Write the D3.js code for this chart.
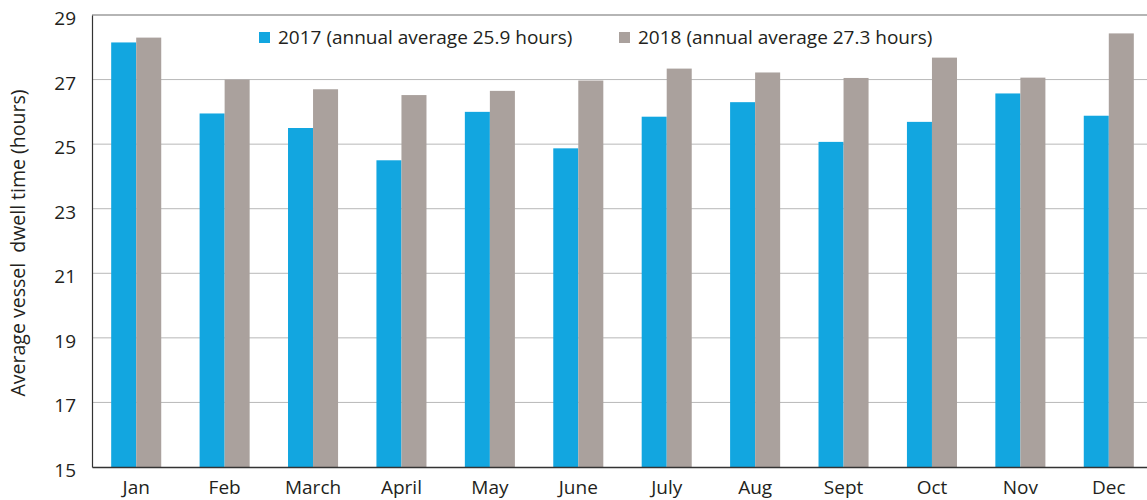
<!DOCTYPE html>
<html>
<head>
<meta charset="utf-8">
<script src="https://cdn.jsdelivr.net/npm/d3@7"></script>
<style>
  body { margin: 0; background: #fff; }
  svg text { font-family: "Open Sans", sans-serif; fill: #231f20; }
</style>
</head>
<body>
<script>
// monthly averages
var months = ["Jan", "Feb", "March", "April", "May", "June", "July", "Aug", "Sept", "Oct", "Nov", "Dec"];
var dwell2017 = [28.15, 25.95, 25.5, 24.5, 26.0, 24.87, 25.85, 26.3, 25.07, 25.69, 26.57, 25.88];
var dwell2018 = [28.3, 27.0, 26.7, 26.52, 26.65, 26.97, 27.34, 27.22, 27.05, 27.68, 27.06, 28.43];
var seriesNames = ["2017 (annual average 25.9 hours)", "2018 (annual average 27.3 hours)"];
var yTicks = [15, 17, 19, 21, 23, 25, 27, 29];

var colors = ["#12a6e0", "#aaa19d"];

var width = 1147, height = 500;
var margin = {top: 15, right: -6, bottom: 33, left: 92};
var plotW = width - margin.left - margin.right,
    plotH = height - margin.top - margin.bottom;

var data = months.map(function(m, i) {
  return {month: m, values: [dwell2017[i], dwell2018[i]]};
});

var svg = d3.select("body").append("svg")
    .attr("width", width)
    .attr("height", height);

var g = svg.append("g")
    .attr("transform", "translate(" + margin.left + "," + margin.top + ")");

var x = d3.scaleBand()
    .domain(months)
    .range([0, plotW])
    .paddingInner(0.434)
    .paddingOuter(0.217);

var x1 = d3.scaleBand()
    .domain([0, 1])
    .range([0, x.bandwidth()]);

var y = d3.scaleLinear()
    .domain([15, 29])
    .range([plotH, 0]);

// grid lines
g.append("g")
    .selectAll("line")
    .data(yTicks.slice(1))
    .enter().append("line")
      .attr("x1", 0)
      .attr("x2", plotW)
      .attr("y1", function(d) { return y(d); })
      .attr("y2", function(d) { return y(d); })
      .attr("stroke", function(d) { return d == 29 ? "#9d9d9d" : "#b8b8b8"; })
      .attr("stroke-width", function(d) { return d == 29 ? 1.5 : 1; });

// bars
var groups = g.selectAll(".month")
    .data(data)
  .enter().append("g")
    .attr("class", "month")
    .attr("transform", function(d) { return "translate(" + x(d.month) + ",0)"; });

groups.selectAll("rect")
    .data(function(d) { return d.values; })
  .enter().append("rect")
    .attr("x", function(d, i) { return x1(i); })
    .attr("width", x1.bandwidth())
    .attr("y", function(d) { return y(d); })
    .attr("height", function(d) { return plotH - y(d); })
    .attr("fill", function(d, i) { return colors[i]; });

// y axis
var yAxis = g.append("g")
    .call(d3.axisLeft(y).tickValues(yTicks).tickSize(0).tickPadding(16));
yAxis.select(".domain").attr("stroke", "#333").attr("stroke-width", 1.2);
yAxis.selectAll("text")
    .attr("font-size", 19)
    .attr("font-family", "Open Sans, sans-serif")
    .attr("dy", "0.5em");

// x axis
var xAxis = g.append("g")
    .attr("transform", "translate(0," + plotH + ")")
    .call(d3.axisBottom(x).tickSize(0).tickPadding(14));
xAxis.select(".domain").attr("stroke", "#333").attr("stroke-width", 1.5);
xAxis.selectAll("text")
    .attr("font-size", 19)
    .attr("font-family", "Open Sans, sans-serif");

// y label
svg.append("text")
    .attr("transform", "translate(25,243) rotate(-90)")
    .attr("text-anchor", "middle")
    .attr("font-size", 19.5)
    .attr("xml:space", "preserve")
    .style("white-space", "pre")
    .text("Average vessel  dwell time (hours)");

// legend
var legendX = [259, 619];
var legend = svg.selectAll(".legend")
    .data(seriesNames)
  .enter().append("g")
    .attr("class", "legend")
    .attr("transform", function(d, i) { return "translate(" + legendX[i] + ",32)"; });

legend.append("rect")
    .attr("width", 11)
    .attr("height", 11)
    .attr("fill", function(d, i) { return colors[i]; });

legend.append("text")
    .attr("x", 19)
    .attr("y", 11.5)
    .attr("font-size", 19)
    .text(function(d) { return d; });
</script>
</body>
</html>
